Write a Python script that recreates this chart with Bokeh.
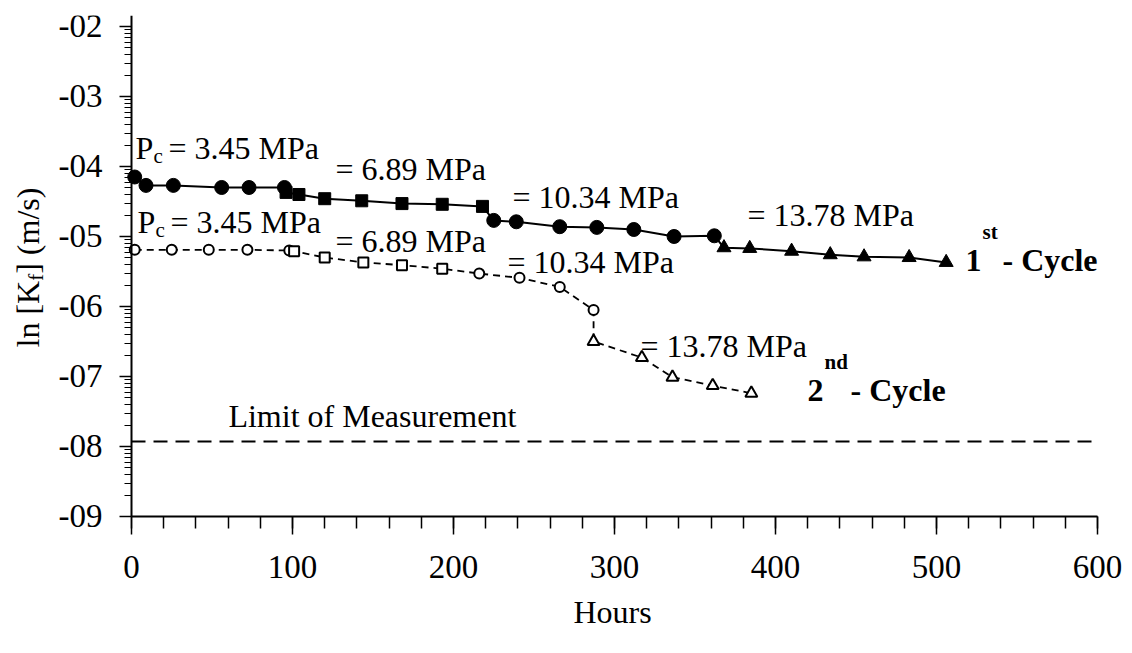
import math
from bokeh.plotting import figure
from bokeh.models import Label, FixedTicker, SingleIntervalTicker, Range1d
from bokeh.embed import file_html
from bokeh.resources import INLINE

# ---------------- data ----------------
# 1st cycle (filled markers, solid line)
c1_h_345 = [2, 9, 26, 56, 73, 95]
c1_k_345 = [-4.15, -4.27, -4.27, -4.30, -4.30, -4.30]
c1_h_689 = [96, 104, 120, 143, 168, 193, 218]
c1_k_689 = [-4.37, -4.40, -4.46, -4.49, -4.53, -4.54, -4.57]
c1_h_1034 = [225, 239, 266, 289, 312, 337, 362]
c1_k_1034 = [-4.77, -4.79, -4.86, -4.87, -4.90, -5.00, -4.99]
c1_h_1378 = [368, 384, 410, 434, 455, 483, 506]
c1_k_1378 = [-5.16, -5.17, -5.21, -5.26, -5.29, -5.30, -5.37]

# 2nd cycle (open markers, dashed line)
c2_h_345 = [2, 25, 48, 72, 98]
c2_k_345 = [-5.19, -5.19, -5.19, -5.19, -5.20]
c2_h_689 = [101, 120, 144, 168, 193]
c2_k_689 = [-5.21, -5.30, -5.37, -5.41, -5.46]
c2_h_1034 = [216, 241, 266, 287]
c2_k_1034 = [-5.53, -5.59, -5.72, -6.05]
c2_h_1378 = [287, 317, 336, 361, 385]
c2_k_1378 = [-6.50, -6.73, -7.01, -7.13, -7.24]

limit_k = -7.93

y_ticks = [-9, -8, -7, -6, -5, -4, -3, -2]
y_tick_labels = ["-09", "-08", "-07", "-06", "-05", "-04", "-03", "-02"]

FONT = "Liberation Serif"
FS = 32

# The frame fills the canvas (except a small top margin); both axes are fixed
# at data locations inside it so that all texts stay inside the frame.
p = figure(width=1124, height=645, output_backend="svg", toolbar_location=None,
           x_range=Range1d(-81.37, 616.77), y_range=Range1d(-10.843, -1.843),
           min_border_left=0, min_border_right=0, min_border_top=15, min_border_bottom=0)
p.outline_line_color = None
p.xgrid.grid_line_color = None
p.ygrid.grid_line_color = None
p.background_fill_color = "white"
p.border_fill_color = "white"

# x axis
xa = p.xaxis[0]
xa.fixed_location = -9
xa.bounds = (0, 600)
xa.ticker = SingleIntervalTicker(interval=100, num_minor_ticks=5)
xa.major_tick_in = 0
xa.major_tick_out = 18
xa.minor_tick_in = 0
xa.minor_tick_out = 12
xa.axis_line_width = 2
xa.major_tick_line_width = 1.5
xa.minor_tick_line_width = 1.5
xa.major_label_text_font = FONT
xa.major_label_text_font_size = "33px"
xa.major_label_text_color = "black"
xa.major_label_standoff = 22

# y axis (log-style minor ticks)
minor = []
for n in range(2, 9):
    for k in range(2, 10):
        minor.append(-(n + 1) + math.log10(k))
ya = p.yaxis[0]
ya.fixed_location = 0
ya.bounds = (-9, -1.843)
ya.ticker = FixedTicker(ticks=y_ticks, minor_ticks=minor)
ya.major_label_overrides = {t: s for t, s in zip(y_ticks, y_tick_labels)}
ya.major_tick_in = 0
ya.major_tick_out = 12
ya.minor_tick_in = 0
ya.minor_tick_out = 7
ya.axis_line_width = 2
ya.major_tick_line_width = 1.5
ya.minor_tick_line_width = 1
ya.major_label_text_font = FONT
ya.major_label_text_font_size = "33px"
ya.major_label_text_color = "black"
ya.major_label_standoff = 17

# limit of measurement
p.segment(x0=[0], y0=[limit_k], x1=[600], y1=[limit_k], line_color="black",
          line_width=2, line_dash="14 8")

# 1st cycle
h1 = c1_h_345 + c1_h_689 + c1_h_1034 + c1_h_1378
k1 = c1_k_345 + c1_k_689 + c1_k_1034 + c1_k_1378
p.line(h1, k1, line_color="black", line_width=2)
p.scatter(c1_h_345, c1_k_345, marker="circle", size=14, fill_color="black", line_color="black")
p.scatter(c1_h_689, c1_k_689, marker="square", size=12, fill_color="black", line_color="black")
p.scatter(c1_h_1034, c1_k_1034, marker="circle", size=14, fill_color="black", line_color="black")
p.scatter(c1_h_1378, c1_k_1378, marker="triangle", size=14, fill_color="black", line_color="black")

# 2nd cycle
h2 = c2_h_345 + c2_h_689 + c2_h_1034 + c2_h_1378
k2 = c2_k_345 + c2_k_689 + c2_k_1034 + c2_k_1378
p.line(h2, k2, line_color="black", line_width=1.8, line_dash="7 5")
p.scatter(c2_h_345, c2_k_345, marker="circle", size=10, fill_color="white", line_color="black", line_width=2)
p.scatter(c2_h_689, c2_k_689, marker="square", size=10, fill_color="white", line_color="black", line_width=2)
p.scatter(c2_h_1034, c2_k_1034, marker="circle", size=10, fill_color="white", line_color="black", line_width=2)
p.scatter(c2_h_1378, c2_k_1378, marker="triangle", size=12, fill_color="white", line_color="black", line_width=2)


def lab(x, y, text, size=FS, bold=False, xo=0, yo=0, angle=0, align="left"):
    p.add_layout(Label(x=x, y=y, text=text,
                       x_offset=xo, y_offset=yo, angle=angle,
                       text_font=FONT, text_font_size=f"{size}px",
                       text_font_style="bold" if bold else "normal",
                       text_baseline="middle", text_align=align, text_color="black"))


def pc_label(x, y, rest):
    lab(x, y, "P")
    lab(x, y, "c", size=21, xo=18, yo=-8)
    lab(x, y, rest, xo=33)


pc_label(2.5, -3.73, "= 3.45 MPa")
lab(126.7, -4.03, "= 6.89 MPa")
lab(236.6, -4.44, "= 10.34 MPa")
lab(382.6, -4.69, "= 13.78 MPa")

pc_label(3.7, -4.80, "= 3.45 MPa")
lab(126.7, -5.06, "= 6.89 MPa")
lab(233.5, -5.37, "= 10.34 MPa")
lab(316.1, -6.57, "= 13.78 MPa")

lab(518, -5.34, "1", bold=True)
lab(518, -5.34, "st", size=21, bold=True, xo=17, yo=28)
lab(518, -5.34, "- Cycle", bold=True, xo=37)

lab(419.9, -7.20, "2", bold=True)
lab(419.9, -7.20, "nd", size=21, bold=True, xo=17, yo=28)
lab(419.9, -7.20, "- Cycle", bold=True, xo=43)

lab(60.2, -7.56, "Limit of Measurement")

# x axis title
lab(298.8, -10.37, "Hours", align="center")

# y axis title: ln [K_f] (m/s), rotated
ang = math.pi / 2
lab(-64.0, -6.586, "ln [K", angle=ang)
lab(-59.6, -5.633, "f", size=21, angle=ang)
lab(-64.0, -5.533, "] (m/s)", angle=ang)

open("out.html", "w").write(file_html(p, INLINE))
